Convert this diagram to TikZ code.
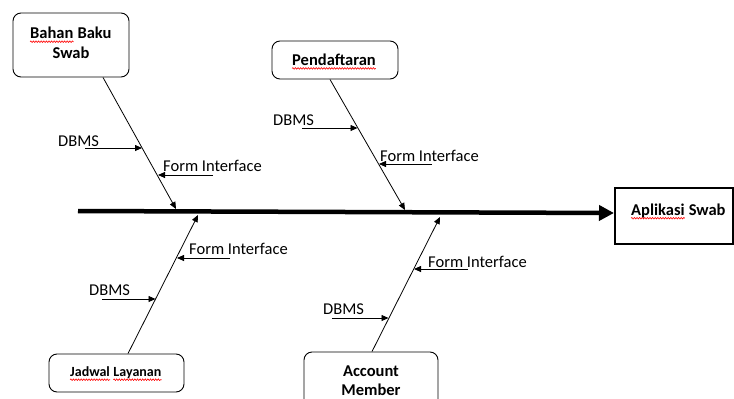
\documentclass[tikz,border=0pt]{standalone}
\usepackage{fontspec}
\setmainfont{Carlito}
\usetikzlibrary{arrows.meta,calc,decorations.pathmorphing}
\begin{document}
\begin{tikzpicture}[x=1pt,y=-1pt,
  cause/.style={draw, rounded corners=8pt, line width=0.9pt, inner sep=0pt},
  boxtxt/.style={inner sep=0pt, font=\bfseries\fontsize{16.5}{20}\selectfont},
  smalltxt/.style={inner sep=0pt, font=\bfseries\fontsize{14}{17}\selectfont},
  lbl/.style={anchor=west, inner sep=0pt, font=\fontsize{16.5}{20}\selectfont},
  bone/.style={line width=0.8pt, -{Triangle[length=7pt,width=6pt]}},
  sub/.style={line width=0.8pt, -{Triangle[length=7pt,width=6pt]}},
  spine/.style={line width=4.5pt, -{Triangle[length=15pt,width=15pt]}},
  wave/.style={red, line width=0.6pt, decorate, decoration={snake, amplitude=0.8pt, segment length=2.6pt}},
]
\clip (0,0) rectangle (734,399);
\fill[white] (0,0) rectangle (734,399);

% cause boxes
\node[cause, minimum width=116pt, minimum height=64pt] (bahan) at (71,45) {};
\node[cause, minimum width=126pt, minimum height=38pt] (pend) at (335,60) {};
\node[cause, minimum width=135pt, minimum height=38pt] (jadwal) at (116.5,373) {};
\node[cause, minimum width=134pt, minimum height=60pt] (account) at (371,382) {};

% effect box
\node[draw, line width=2pt, inner sep=0pt, minimum width=118pt, minimum height=56pt] (app) at (674,216) {};

% box texts
\node[boxtxt, anchor=base west] (b1) at (30,38.5) {Bahan};
\node[boxtxt, anchor=base west] (b2) at ([xshift=3.7pt]b1.base east) {Baku};
\node[boxtxt, anchor=base] (b3) at (71,58.5) {Swab};
\node[boxtxt] (p1) at (334,59.5) {Pendaftaran};
\node[smalltxt, anchor=base west] (j1) at (70,376.5) {Jadwal};
\node[smalltxt, anchor=base west] (j2) at ([xshift=3.2pt]j1.base east) {Layanan};
\node[boxtxt, align=center, font=\bfseries\fontsize{16.5}{19.5}\selectfont] (a1) at (371,380.5) {Account\\Member};
\node[boxtxt, anchor=base west] (ap1) at (631,215) {Aplikasi};
\node[boxtxt, anchor=base west] (ap2) at ([xshift=3.7pt]ap1.base east) {Swab};

% spell-check marks
\foreach \w in {b1,p1,j1,j2,ap1}
  \draw[wave] ([yshift=-3.2pt]\w.base west) -- ([yshift=-3.2pt]\w.base east);

% spine
\coordinate (s0) at (78,211);
\draw[spine] (s0) -- ([yshift=3pt]app.west);

% bones
\coordinate (t1) at (176,209);
\coordinate (t2) at (405,210);
\coordinate (t3) at (198,215);
\coordinate (t4) at (440,217);
\draw[bone] ([xshift=32pt]bahan.south) -- (t1);
\draw[bone] ([xshift=-5pt]pend.south) -- (t2);
\draw[bone] ([xshift=11.5pt]jadwal.north) -- (t3);
\draw[bone] ([xshift=1pt]account.north) -- (t4);

% Bahan Baku sub-causes
\node[lbl] (d1) at (58,141) {DBMS};
\node[lbl] (f1) at (163,166) {Form Interface};
\coordinate (d1a) at (85,148); \coordinate (d1b) at (142,148);
\coordinate (f1a) at (213,175); \coordinate (f1b) at (158,175);
\draw[sub] (d1a) -- (d1b);
\draw[sub] (f1a) -- (f1b);

% Pendaftaran sub-causes
\node[lbl] (d2) at (273,120) {DBMS};
\node[lbl] (f2) at (380,155.5) {Form Interface};
\coordinate (d2a) at (302,128); \coordinate (d2b) at (357.5,128);
\coordinate (f2a) at (432,164); \coordinate (f2b) at (379,164);
\draw[sub] (d2a) -- (d2b);
\draw[sub] (f2a) -- (f2b);

% Jadwal Layanan sub-causes
\node[lbl] (f3) at (189,249) {Form Interface};
\node[lbl] (d3) at (89,290) {DBMS};
\coordinate (f3a) at (230,258); \coordinate (f3b) at (177,258);
\coordinate (d3a) at (102,299); \coordinate (d3b) at (155.5,299);
\draw[sub] (f3a) -- (f3b);
\draw[sub] (d3a) -- (d3b);

% Account Member sub-causes
\node[lbl] (f4) at (428,262) {Form Interface};
\node[lbl] (d4) at (323,309) {DBMS};
\coordinate (f4a) at (468,269); \coordinate (f4b) at (414,269);
\coordinate (d4a) at (332,318); \coordinate (d4b) at (388.5,318);
\draw[sub] (f4a) -- (f4b);
\draw[sub] (d4a) -- (d4b);
\end{tikzpicture}
\end{document}
